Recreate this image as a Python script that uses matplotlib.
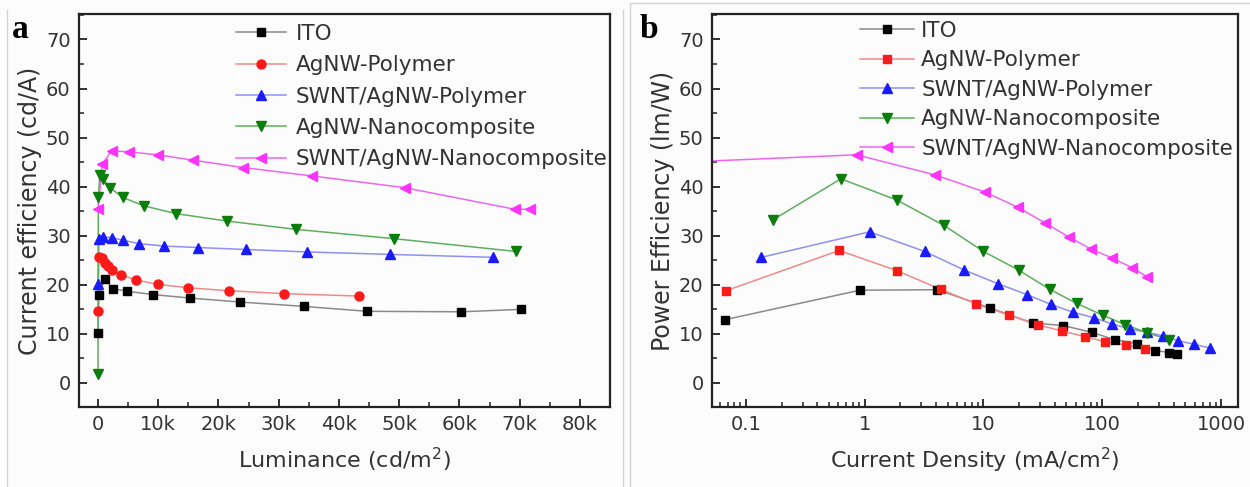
import matplotlib
matplotlib.use("Agg")
import matplotlib.pyplot as plt
from matplotlib.lines import Line2D
from matplotlib.ticker import MultipleLocator, FixedLocator, FuncFormatter, LogLocator, NullFormatter

# ---------------- data ----------------
labels = ["ITO", "AgNW-Polymer", "SWNT/AgNW-Polymer",
          "AgNW-Nanocomposite", "SWNT/AgNW-Nanocomposite"]

# (a) current efficiency vs luminance
lum_ito = [10, 150, 1100, 2500, 4800, 9200, 15300, 23500, 34200, 44700, 60300, 70200]
ce_ito = [10.2, 18.0, 21.1, 19.2, 18.7, 18.0, 17.3, 16.5, 15.6, 14.6, 14.5, 15.0]

lum_agp = [10, 150, 700, 1100, 1600, 2300, 3800, 6300, 9900, 14900, 21700, 30900, 43400]
ce_agp = [14.6, 25.6, 25.5, 24.5, 23.8, 23.1, 22.0, 21.0, 20.1, 19.4, 18.8, 18.2, 17.7]

lum_swp = [20, 150, 900, 2300, 4100, 6800, 11000, 16600, 24500, 34700, 48400, 65600]
ce_swp = [20.1, 29.3, 29.8, 29.6, 29.1, 28.4, 27.9, 27.6, 27.2, 26.7, 26.2, 25.6]

lum_agn = [5, 60, 300, 900, 2000, 4100, 7600, 13000, 21400, 32900, 49200, 69400]
ce_agn = [1.9, 37.8, 42.4, 41.5, 39.8, 37.8, 36.1, 34.5, 33.0, 31.3, 29.4, 26.8]

lum_swn = [30, 700, 2300, 5100, 9900, 15800, 24100, 35500, 50900, 69200, 71700]
ce_swn = [35.4, 44.6, 47.3, 47.1, 46.5, 45.4, 43.9, 42.2, 39.8, 35.4, 35.4]

# (b) power efficiency vs current density
cd_ito = [0.067, 0.91, 4.1, 11.3, 26, 47, 82, 128, 197, 280, 368, 425]
pe_ito = [12.9, 18.9, 19.0, 15.3, 12.2, 11.7, 10.3, 8.8, 8.0, 6.6, 6.2, 6.0]

cd_agp = [0.068, 0.61, 1.86, 4.35, 8.7, 16.5, 29, 46, 72, 106, 160, 230]
pe_agp = [18.8, 27.0, 22.9, 19.1, 16.1, 13.8, 11.8, 10.6, 9.4, 8.4, 7.7, 7.0]

cd_swp = [0.135, 1.1, 3.2, 6.9, 13.3, 23.3, 37, 57, 85, 122, 170, 240, 326, 435, 590, 815]
pe_swp = [25.6, 30.8, 26.8, 23.0, 20.2, 18.0, 16.0, 14.4, 13.3, 12.0, 11.0, 10.3, 9.6, 8.6, 7.9, 7.1]

cd_agn = [0.17, 0.63, 1.86, 4.65, 10, 19.8, 36, 61, 101, 155, 240, 368]
pe_agn = [33.3, 41.6, 37.3, 32.1, 26.8, 23.0, 19.1, 16.2, 13.8, 11.9, 10.2, 8.8]

cd_swn = [0.03, 0.855, 3.9, 10.3, 19.5, 33, 52, 80, 120, 178, 240]
pe_swn = [45.0, 46.5, 42.4, 38.9, 35.8, 32.6, 29.8, 27.3, 25.5, 23.5, 21.6]

yticks = [0, 10, 20, 30, 40, 50, 60, 70]
lum_ticks = [0, 10000, 20000, 30000, 40000, 50000, 60000, 70000, 80000]
lum_ticklabels = ["0", "10k", "20k", "30k", "40k", "50k", "60k", "70k", "80k"]
cd_ticks = [0.1, 1, 10, 100, 1000]
cd_ticklabels = ["0.1", "1", "10", "100", "1000"]

# ---------------- styles ----------------
mk_colors = ["#000000", "#ff1a1a", "#1a1aff", "#0b7d0b", "#ff33ff"]
ln_colors = ["#8a8a8a", "#f08a8a", "#9090f0", "#5fae5f", "#ee66ee"]
markers_a = ["s", "o", "^", "v", "<"]
markers_b = ["s", "s", "^", "v", "<"]
msize_a = [5.5, 6.5, 7.5, 7.5, 7.5]
msize_b = [5.5, 5.5, 7.5, 7.5, 7.5]

TXT = "#333333"
BG = "#fcfcfc"
plt.rcParams["font.family"] = ["DejaVu Sans"]
plt.rcParams["mathtext.default"] = "regular"

fig = plt.figure(figsize=(12.5, 4.87), dpi=100, facecolor=BG)
ax_a = fig.add_axes([0.0632, 0.1643, 0.4248, 0.8070])
ax_b = fig.add_axes([0.5696, 0.1643, 0.4208, 0.8070])


def style_axes(ax):
    ax.set_facecolor(BG)
    for s in ax.spines.values():
        s.set_linewidth(1.6)
        s.set_color("#222222")
    ax.tick_params(which="both", direction="in", top=False, right=False,
                   colors="#222222", labelcolor=TXT, labelsize=14, pad=6)
    ax.tick_params(which="major", length=6, width=1.3)
    ax.tick_params(which="minor", length=3.5, width=1.1)
    ax.set_ylim(-4.9, 75.2)
    ax.yaxis.set_major_locator(FixedLocator(yticks))
    ax.yaxis.set_minor_locator(MultipleLocator(5))


def draw_series(ax, xs, ys, markers, sizes):
    handles = []
    for x, y, m, ms, mc, lc, lab in zip(xs, ys, markers, sizes, mk_colors, ln_colors, labels):
        ax.plot(x, y, color=lc, lw=1.1, zorder=2)
        ax.plot(x, y, ls="none", marker=m, ms=ms, mfc=mc, mec=mc, zorder=3)
        handles.append(Line2D([], [], color=lc, lw=1.1, marker=m, ms=ms, mfc=mc, mec=mc, label=lab))
    return handles


# ---------------- panel a ----------------
style_axes(ax_a)
h_a = draw_series(ax_a,
                  [lum_ito, lum_agp, lum_swp, lum_agn, lum_swn],
                  [ce_ito, ce_agp, ce_swp, ce_agn, ce_swn],
                  markers_a, msize_a)
ax_a.set_xlim(-3150, 85000)
ax_a.xaxis.set_major_locator(FixedLocator(lum_ticks))
ax_a.set_xticklabels(lum_ticklabels)
ax_a.xaxis.set_minor_locator(MultipleLocator(5000))
ax_a.set_xlabel("Luminance (cd/m$^2$)", fontsize=16, color=TXT, labelpad=8)
ax_a.set_ylabel("Current efficiency (cd/A)", fontsize=17, color=TXT, labelpad=3)
ax_a.legend(handles=h_a, loc="upper left", bbox_to_anchor=(0.296, 0.975),
            frameon=False, fontsize=15.5, labelcolor=TXT, numpoints=1,
            handlelength=2.3, handletextpad=0.45, labelspacing=0.53,
            borderpad=0, borderaxespad=0)

# ---------------- panel b ----------------
style_axes(ax_b)
h_b = draw_series(ax_b,
                  [cd_ito, cd_agp, cd_swp, cd_agn, cd_swn],
                  [pe_ito, pe_agp, pe_swp, pe_agn, pe_swn],
                  markers_b, msize_b)
ax_b.set_xscale("log")
ax_b.set_xlim(0.0518, 1390)
ax_b.xaxis.set_major_locator(FixedLocator(cd_ticks))
ax_b.xaxis.set_major_formatter(FuncFormatter(lambda v, p: cd_ticklabels[cd_ticks.index(v)] if v in cd_ticks else ""))
ax_b.xaxis.set_minor_locator(LogLocator(base=10, subs=range(2, 10), numticks=20))
ax_b.xaxis.set_minor_formatter(NullFormatter())
ax_b.set_xlabel("Current Density (mA/cm$^2$)", fontsize=16, color=TXT, labelpad=8)
ax_b.set_ylabel("Power Efficiency (lm/W)", fontsize=17, color=TXT, labelpad=3)
ax_b.legend(handles=h_b, loc="upper left", bbox_to_anchor=(0.281, 0.983),
            frameon=False, fontsize=15.5, labelcolor=TXT, numpoints=1,
            handlelength=2.5, handletextpad=0.35, labelspacing=0.44,
            borderpad=0, borderaxespad=0)

# panel letters
fig.text(0.0096, 0.922, "a", fontsize=24, fontweight="bold", family="Liberation Serif", color="#000000")
fig.text(0.512, 0.922, "b", fontsize=24, fontweight="bold", family="Liberation Serif", color="#000000")

# thin frames around the two panels
frame_kw = dict(color="#d4d4d4", lw=1.0, transform=fig.transFigure)
fig.add_artist(Line2D([7 / 1250, 7 / 1250], [0, 1 - 10 / 487], **frame_kw))
fig.add_artist(Line2D([623 / 1250, 623 / 1250], [0, 1 - 10 / 487], **frame_kw))
fig.add_artist(Line2D([630 / 1250, 630 / 1250], [0, 1 - 3 / 487], **frame_kw))
fig.add_artist(Line2D([630 / 1250, 1.0], [1 - 3 / 487, 1 - 3 / 487], **frame_kw))

fig.savefig("out.png", dpi=100, facecolor=BG)
